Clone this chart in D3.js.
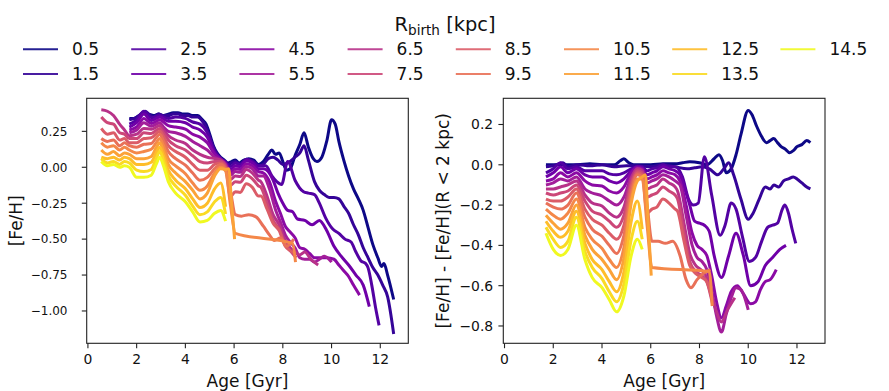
<!DOCTYPE html>
<html>
<head>
<meta charset="utf-8">
<script src="https://cdn.jsdelivr.net/npm/d3@7"></script>
<style>
  body { margin: 0; background: #fff; }
  text { font-family: "DejaVu Sans", sans-serif; fill: #111; }
</style>
</head>
<body>
<svg id="fig" width="889" height="391"></svg>
<script>
// birth radii, one line per radius
var rbirth = [0.5, 1.5, 2.5, 3.5, 4.5, 5.5, 6.5, 7.5, 8.5, 9.5, 10.5, 11.5, 12.5, 13.5, 14.5];

var ageTicks = [0, 2, 4, 6, 8, 10, 12];
var fehTicks = [0.25, 0, -0.25, -0.5, -0.75, -1.0];
var diffTicks = [0.2, 0, -0.2, -0.4, -0.6, -0.8];

// left panel: [age, [Fe/H]] for each birth radius
var fehSeries = [
  [[1.7,0.34],[1.9,0.34],[2.1,0.36],[2.3,0.38],[2.5,0.37],[2.7,0.36],[2.9,0.37],[3.1,0.36],[3.3,0.37],[3.5,0.38],[3.7,0.38],[3.9,0.37],[4.1,0.37],[4.3,0.36],[4.5,0.36],[4.7,0.33],[4.85,0.30],[5.0,0.23],[5.15,0.15],[5.3,0.10],[5.45,0.07],[5.6,0.05],[5.75,0.03],[5.9,0.04],[6.05,0.05],[6.2,0.03],[6.4,0.05],[6.6,0.06],[6.8,0.05],[7.0,0.02],[7.2,0.04],[7.4,0.09],[7.55,0.12],[7.7,0.09],[7.85,0.10],[8.0,0.04],[8.15,-0.02],[8.3,-0.01],[8.5,0.08],[8.7,0.16],[8.87,0.24],[9.05,0.14],[9.25,0.06],[9.4,0.04],[9.6,0.07],[9.8,0.18],[10.0,0.33],[10.15,0.30],[10.3,0.18],[10.5,0.05],[10.7,-0.06],[10.9,-0.15],[11.1,-0.22],[11.3,-0.30],[11.5,-0.42],[11.7,-0.54],[11.9,-0.63],[12.05,-0.69],[12.15,-0.67],[12.3,-0.75],[12.55,-0.92]],
  [[1.7,0.33],[1.9,0.34],[2.1,0.36],[2.35,0.39],[2.5,0.37],[2.7,0.35],[2.9,0.37],[3.1,0.36],[3.3,0.36],[3.5,0.37],[3.7,0.37],[3.9,0.36],[4.1,0.36],[4.3,0.35],[4.5,0.35],[4.7,0.32],[4.85,0.28],[5.0,0.21],[5.15,0.14],[5.3,0.09],[5.45,0.06],[5.6,0.04],[5.75,0.02],[5.9,0.03],[6.05,0.04],[6.2,0.02],[6.4,0.04],[6.6,0.05],[6.8,0.04],[7.0,0.01],[7.2,0.02],[7.4,0.06],[7.6,0.07],[7.8,0.05],[8.0,0.02],[8.2,0.03],[8.5,0.07],[8.7,0.10],[8.87,0.15],[9.05,0.05],[9.3,-0.10],[9.5,-0.16],[9.7,-0.19],[9.9,-0.21],[10.1,-0.21],[10.3,-0.22],[10.5,-0.27],[10.7,-0.32],[10.9,-0.40],[11.1,-0.47],[11.3,-0.56],[11.5,-0.63],[11.7,-0.70],[11.9,-0.75],[12.1,-0.82],[12.3,-0.90],[12.55,-1.16]],
  [[1.7,0.30],[2.0,0.33],[2.3,0.39],[2.6,0.345],[2.95,0.36],[3.3,0.34],[3.6,0.35],[4.0,0.34],[4.3,0.315],[4.6,0.30],[4.9,0.24],[5.2,0.11],[5.45,0.06],[5.65,0.035],[5.85,0.005],[6.05,0.03],[6.25,0.02],[6.5,0.055],[6.75,0.04],[7.0,0.01],[7.3,0.01],[7.55,-0.06],[7.75,-0.10],[7.95,-0.12],[8.2,0.04],[8.5,-0.09],[8.85,-0.17],[9.05,-0.18],[9.3,-0.19],[9.5,-0.25],[9.75,-0.35],[10.05,-0.43],[10.3,-0.46],[10.55,-0.50],[10.8,-0.52],[11.0,-0.59],[11.2,-0.65],[11.4,-0.67],[11.5,-0.70],[11.65,-0.82],[11.8,-0.97],[11.95,-1.10]],
  [[1.7,0.28],[2.0,0.31],[2.3,0.37],[2.6,0.325],[2.95,0.35],[3.3,0.32],[3.6,0.32],[4.0,0.31],[4.3,0.28],[4.6,0.26],[4.9,0.21],[5.2,0.10],[5.45,0.06],[5.65,0.03],[5.85,-0.015],[6.05,0.01],[6.25,0.005],[6.5,0.045],[6.75,0.03],[7.0,-0.01],[7.2,-0.01],[7.4,-0.03],[7.6,-0.09],[7.8,-0.18],[8.0,-0.25],[8.2,-0.30],[8.4,-0.31],[8.6,-0.36],[8.9,-0.37],[9.2,-0.40],[9.5,-0.37],[9.8,-0.44],[10.1,-0.55],[10.4,-0.62],[10.7,-0.68],[11.0,-0.75],[11.3,-0.82],[11.55,-0.97]],
  [[1.7,0.26],[2.0,0.28],[2.3,0.34],[2.6,0.305],[2.95,0.33],[3.3,0.29],[3.6,0.28],[4.0,0.265],[4.3,0.23],[4.6,0.21],[4.9,0.17],[5.2,0.09],[5.45,0.055],[5.65,0.025],[5.85,-0.035],[6.05,-0.01],[6.25,-0.015],[6.5,0.025],[6.75,0.01],[7.0,-0.03],[7.2,-0.04],[7.45,-0.10],[7.7,-0.235],[7.9,-0.32],[8.1,-0.41],[8.3,-0.45],[8.5,-0.49],[8.7,-0.56],[8.9,-0.57],[9.1,-0.60],[9.3,-0.63],[9.55,-0.63],[9.8,-0.63],[10.1,-0.64],[10.3,-0.68],[10.5,-0.72],[10.7,-0.76],[10.9,-0.82],[11.15,-0.89]],
  [[1.7,0.24],[2.0,0.26],[2.3,0.31],[2.6,0.285],[2.95,0.31],[3.1,0.28],[3.3,0.25],[3.6,0.24],[4.0,0.215],[4.3,0.18],[4.6,0.15],[4.9,0.12],[5.2,0.07],[5.45,0.05],[5.65,0.02],[5.85,-0.055],[6.05,-0.03],[6.25,-0.035],[6.5,0.005],[6.75,-0.01],[7.0,-0.06],[7.2,-0.06],[7.45,-0.15],[7.7,-0.295],[7.9,-0.38],[8.1,-0.47],[8.3,-0.52],[8.5,-0.56],[8.7,-0.63],[8.9,-0.64],[9.1,-0.64],[9.3,-0.66],[9.5,-0.64],[9.7,-0.62],[10.0,-0.66]],
  [[0.55,0.40],[0.8,0.39],[1.05,0.36],[1.3,0.30],[1.5,0.26],[1.7,0.22],[2.0,0.23],[2.3,0.27],[2.6,0.265],[2.95,0.29],[3.1,0.26],[3.3,0.22],[3.6,0.19],[4.0,0.165],[4.3,0.12],[4.6,0.09],[4.9,0.07],[5.2,0.06],[5.45,0.05],[5.65,0.015],[5.85,-0.085],[6.05,-0.06],[6.25,-0.065],[6.5,-0.015],[6.75,-0.04],[7.0,-0.09],[7.1,-0.10],[7.35,-0.20],[7.6,-0.33],[7.85,-0.40],[8.05,-0.49],[8.3,-0.56],[8.5,-0.59],[8.7,-0.61],[8.9,-0.59],[9.15,-0.64],[9.45,-0.68]],
  [[0.55,0.35],[0.8,0.31],[1.05,0.30],[1.3,0.24],[1.5,0.23],[1.7,0.20],[2.0,0.20],[2.3,0.24],[2.6,0.235],[2.95,0.27],[3.1,0.24],[3.3,0.19],[3.6,0.15],[4.0,0.12],[4.3,0.08],[4.6,0.04],[4.9,0.03],[5.2,0.04],[5.45,0.04],[5.65,0.005],[5.85,-0.125],[6.05,-0.10],[6.25,-0.105],[6.5,-0.055],[6.75,-0.08],[7.0,-0.13],[7.1,-0.14],[7.35,-0.25],[7.6,-0.37],[7.85,-0.43],[8.1,-0.54],[8.3,-0.58],[8.55,-0.63]],
  [[0.55,0.27],[0.8,0.23],[1.05,0.24],[1.3,0.19],[1.5,0.20],[1.7,0.17],[2.0,0.17],[2.3,0.20],[2.6,0.205],[2.95,0.25],[3.1,0.215],[3.3,0.15],[3.6,0.11],[4.0,0.07],[4.3,0.02],[4.6,-0.02],[4.9,-0.02],[5.2,0.02],[5.45,0.03],[5.65,-0.005],[5.85,-0.205],[6.05,-0.17],[6.25,-0.175],[6.5,-0.115],[6.75,-0.14],[7.0,-0.20],[7.1,-0.20],[7.35,-0.29],[7.6,-0.39],[7.85,-0.44],[8.1,-0.55],[8.3,-0.58],[8.5,-0.60]],
  [[0.55,0.20],[0.8,0.18],[1.05,0.19],[1.3,0.15],[1.5,0.17],[1.7,0.15],[2.0,0.14],[2.3,0.16],[2.6,0.165],[2.8,0.205],[2.95,0.23],[3.1,0.185],[3.3,0.11],[3.6,0.06],[4.0,0.015],[4.3,-0.04],[4.6,-0.09],[4.9,-0.07],[5.2,-0.01],[5.45,0.02],[5.65,-0.015],[5.85,-0.165],[6.05,-0.33],[6.3,-0.34],[6.6,-0.33],[6.9,-0.345],[7.2,-0.41],[7.45,-0.47],[7.65,-0.51],[7.9,-0.49],[8.15,-0.55],[8.45,-0.50]],
  [[0.55,0.17],[0.8,0.14],[1.05,0.15],[1.3,0.12],[1.5,0.14],[1.7,0.12],[2.0,0.10],[2.3,0.11],[2.6,0.125],[2.8,0.17],[2.95,0.20],[3.1,0.15],[3.3,0.06],[3.6,0.01],[4.0,-0.045],[4.3,-0.11],[4.6,-0.16],[4.9,-0.13],[5.2,-0.04],[5.45,0.0],[5.65,-0.025],[5.85,-0.265],[6.05,-0.46],[8.4,-0.53],[8.52,-0.66]],
  [[0.55,0.12],[0.8,0.09],[1.05,0.11],[1.3,0.08],[1.5,0.10],[1.7,0.09],[2.0,0.06],[2.3,0.06],[2.6,0.075],[2.8,0.135],[2.95,0.17],[3.1,0.115],[3.3,0.02],[3.6,-0.04],[4.0,-0.10],[4.3,-0.16],[4.6,-0.22],[4.9,-0.18],[5.2,-0.06],[5.45,-0.01],[5.65,-0.015],[5.78,-0.01],[5.9,-0.26],[6.02,-0.50]],
  [[0.55,0.07],[0.8,0.06],[1.05,0.07],[1.3,0.05],[1.5,0.07],[1.7,0.06],[2.0,0.02],[2.3,0.02],[2.6,0.035],[2.8,0.10],[2.95,0.14],[3.1,0.08],[3.3,-0.02],[3.6,-0.09],[4.0,-0.15],[4.3,-0.22],[4.6,-0.28],[4.9,-0.25],[5.2,-0.15],[5.45,-0.11],[5.65,-0.275]],
  [[0.55,0.06],[0.8,0.03],[1.05,0.04],[1.3,0.02],[1.5,0.04],[1.7,0.03],[2.0,-0.02],[2.3,-0.03],[2.6,-0.015],[2.8,0.06],[2.95,0.11],[3.1,0.045],[3.3,-0.06],[3.6,-0.13],[4.0,-0.195],[4.3,-0.27],[4.6,-0.33],[4.9,-0.31],[5.2,-0.24],[5.45,-0.21],[5.65,-0.325]],
  [[0.55,0.04],[0.8,0.01],[1.05,0.02],[1.3,0.0],[1.5,0.01],[1.7,0.0],[2.0,-0.07],[2.3,-0.07],[2.6,-0.055],[2.8,0.02],[2.95,0.07],[3.1,0.01],[3.3,-0.10],[3.6,-0.18],[4.0,-0.24],[4.3,-0.31],[4.6,-0.38],[4.9,-0.37],[5.2,-0.32],[5.45,-0.30],[5.65,-0.375]]
];

// right panel: [age, [Fe/H] - [Fe/H](R < 2 kpc)]
var diffSeries = [
  [[1.7,0],[2.0,0],[2.5,0.0],[3.0,0.0],[3.5,0.005],[4.0,0.0],[4.5,0.0],[4.75,0.02],[4.9,0.03],[5.1,0.01],[5.3,0],[6.0,0.0],[6.5,0.005],[7.0,0.005],[7.3,0.01],[7.6,0.015],[8.0,0.01],[8.3,0.0],[8.6,0.03],[8.8,0.05],[8.95,0.02],[9.1,-0.04],[9.3,-0.02],[9.5,0.05],[9.7,0.15],[10.0,0.27],[10.15,0.25],[10.35,0.19],[10.55,0.14],[10.75,0.11],[10.9,0.12],[11.05,0.13],[11.2,0.11],[11.35,0.09],[11.5,0.08],[11.7,0.06],[11.85,0.07],[12.0,0.09],[12.2,0.10],[12.4,0.12],[12.55,0.11]],
  [[1.7,-0.01],[2.0,-0.005],[2.4,0.01],[2.6,-0.01],[3.0,0.0],[3.5,-0.005],[4.0,0.0],[4.5,-0.01],[5.0,-0.005],[5.5,-0.005],[6.0,-0.01],[6.5,0.0],[7.0,-0.01],[7.5,-0.02],[7.8,-0.015],[8.1,-0.01],[8.4,-0.02],[8.75,-0.05],[9.0,-0.02],[9.2,0.01],[9.4,-0.05],[9.7,-0.17],[10.0,-0.27],[10.2,-0.24],[10.45,-0.17],[10.7,-0.11],[10.9,-0.12],[11.05,-0.10],[11.25,-0.11],[11.45,-0.08],[11.65,-0.07],[11.85,-0.06],[12.0,-0.07],[12.2,-0.09],[12.4,-0.11],[12.55,-0.12]],
  [[1.7,-0.04],[2.0,-0.02],[2.3,0.01],[2.6,-0.02],[2.95,-0.01],[3.3,-0.03],[3.6,-0.03],[4.0,-0.03],[4.3,-0.045],[4.6,-0.05],[4.9,-0.04],[5.2,-0.02],[5.45,-0.01],[5.65,-0.01],[5.85,-0.03],[6.05,-0.02],[6.25,-0.015],[6.5,0.0],[6.75,-0.01],[7.0,-0.01],[7.3,-0.06],[7.55,-0.17],[7.75,-0.20],[7.95,-0.19],[8.2,0.04],[8.5,-0.15],[8.85,-0.35],[9.05,-0.30],[9.3,-0.19],[9.5,-0.22],[9.75,-0.35],[10.05,-0.48],[10.3,-0.46],[10.55,-0.38],[10.8,-0.31],[11.0,-0.30],[11.2,-0.29],[11.4,-0.22],[11.5,-0.20],[11.65,-0.24],[11.8,-0.32],[11.95,-0.39]],
  [[1.7,-0.06],[2.0,-0.04],[2.3,-0.01],[2.6,-0.04],[2.95,-0.02],[3.3,-0.05],[3.6,-0.06],[4.0,-0.06],[4.3,-0.08],[4.6,-0.09],[4.9,-0.07],[5.2,-0.03],[5.45,-0.01],[5.65,-0.015],[5.85,-0.05],[6.05,-0.04],[6.25,-0.03],[6.5,-0.01],[6.75,-0.02],[7.0,-0.03],[7.2,-0.05],[7.4,-0.12],[7.6,-0.20],[7.8,-0.28],[8.0,-0.29],[8.2,-0.30],[8.4,-0.33],[8.6,-0.45],[8.9,-0.56],[9.2,-0.45],[9.5,-0.34],[9.8,-0.45],[10.1,-0.60],[10.4,-0.58],[10.7,-0.50],[11.0,-0.46],[11.3,-0.42],[11.55,-0.40]],
  [[1.7,-0.08],[2.0,-0.07],[2.3,-0.04],[2.6,-0.06],[2.95,-0.04],[3.3,-0.08],[3.6,-0.10],[4.0,-0.105],[4.3,-0.13],[4.6,-0.14],[4.9,-0.11],[5.2,-0.04],[5.45,-0.015],[5.65,-0.02],[5.85,-0.07],[6.05,-0.06],[6.25,-0.05],[6.5,-0.03],[6.75,-0.04],[7.0,-0.05],[7.2,-0.08],[7.45,-0.20],[7.7,-0.34],[7.9,-0.40],[8.1,-0.42],[8.3,-0.45],[8.5,-0.55],[8.7,-0.68],[8.9,-0.76],[9.1,-0.70],[9.3,-0.63],[9.55,-0.60],[9.8,-0.64],[10.1,-0.69],[10.3,-0.68],[10.5,-0.62],[10.7,-0.58],[10.9,-0.57],[11.15,-0.52]],
  [[1.7,-0.10],[2.0,-0.09],[2.3,-0.07],[2.6,-0.08],[2.95,-0.06],[3.3,-0.12],[3.6,-0.14],[4.0,-0.155],[4.3,-0.18],[4.6,-0.20],[4.9,-0.16],[5.2,-0.06],[5.45,-0.02],[5.65,-0.025],[5.85,-0.09],[6.05,-0.08],[6.25,-0.07],[6.5,-0.05],[6.75,-0.06],[7.0,-0.08],[7.2,-0.10],[7.45,-0.25],[7.7,-0.40],[7.9,-0.46],[8.1,-0.48],[8.3,-0.52],[8.5,-0.62],[8.7,-0.75],[8.9,-0.83],[9.1,-0.74],[9.3,-0.66],[9.5,-0.61],[9.7,-0.62],[10.0,-0.72]],
  [[1.7,-0.12],[2.0,-0.12],[2.3,-0.11],[2.6,-0.10],[2.95,-0.08],[3.3,-0.15],[3.6,-0.19],[4.0,-0.205],[4.3,-0.24],[4.6,-0.26],[4.9,-0.21],[5.2,-0.07],[5.45,-0.02],[5.65,-0.03],[5.85,-0.12],[6.05,-0.11],[6.25,-0.10],[6.5,-0.07],[6.75,-0.09],[7.0,-0.11],[7.1,-0.13],[7.35,-0.28],[7.6,-0.44],[7.85,-0.50],[8.05,-0.52],[8.3,-0.56],[8.5,-0.65],[8.7,-0.73],[8.9,-0.78],[9.15,-0.72],[9.45,-0.66]],
  [[1.7,-0.14],[2.0,-0.15],[2.3,-0.14],[2.6,-0.13],[2.95,-0.10],[3.3,-0.18],[3.6,-0.23],[4.0,-0.25],[4.3,-0.28],[4.6,-0.31],[4.9,-0.25],[5.2,-0.09],[5.45,-0.03],[5.65,-0.04],[5.85,-0.16],[6.05,-0.15],[6.25,-0.14],[6.5,-0.11],[6.75,-0.13],[7.0,-0.15],[7.1,-0.17],[7.35,-0.33],[7.6,-0.48],[7.85,-0.53],[8.1,-0.55],[8.3,-0.58],[8.55,-0.70]],
  [[1.7,-0.17],[2.0,-0.18],[2.3,-0.18],[2.6,-0.16],[2.95,-0.12],[3.3,-0.22],[3.6,-0.27],[4.0,-0.30],[4.3,-0.34],[4.6,-0.37],[4.9,-0.30],[5.2,-0.11],[5.45,-0.04],[5.65,-0.05],[5.85,-0.24],[6.05,-0.22],[6.25,-0.21],[6.5,-0.17],[6.75,-0.19],[7.0,-0.22],[7.1,-0.23],[7.35,-0.37],[7.6,-0.50],[7.85,-0.54],[8.1,-0.56],[8.3,-0.58],[8.5,-0.66]],
  [[1.7,-0.19],[2.0,-0.21],[2.3,-0.22],[2.6,-0.20],[2.95,-0.14],[3.3,-0.26],[3.6,-0.32],[4.0,-0.355],[4.3,-0.40],[4.6,-0.44],[4.9,-0.35],[5.2,-0.14],[5.45,-0.05],[5.65,-0.06],[5.85,-0.20],[6.05,-0.38],[6.3,-0.38],[6.6,-0.39],[6.9,-0.38],[7.2,-0.45],[7.45,-0.57],[7.65,-0.61],[7.9,-0.57],[8.15,-0.54],[8.45,-0.52]],
  [[1.7,-0.22],[2.0,-0.25],[2.3,-0.27],[2.6,-0.24],[2.95,-0.17],[3.3,-0.31],[3.6,-0.37],[4.0,-0.415],[4.3,-0.47],[4.6,-0.51],[4.9,-0.41],[5.2,-0.17],[5.45,-0.07],[5.65,-0.07],[5.85,-0.30],[6.05,-0.51],[8.4,-0.53],[8.52,-0.70]],
  [[1.7,-0.25],[2.0,-0.29],[2.3,-0.32],[2.6,-0.29],[2.95,-0.20],[3.3,-0.35],[3.6,-0.42],[4.0,-0.47],[4.3,-0.52],[4.6,-0.57],[4.9,-0.46],[5.2,-0.19],[5.45,-0.08],[5.65,-0.06],[5.78,-0.05],[5.9,-0.30],[6.02,-0.55]],
  [[1.7,-0.28],[2.0,-0.33],[2.3,-0.36],[2.6,-0.33],[2.95,-0.23],[3.3,-0.39],[3.6,-0.47],[4.0,-0.52],[4.3,-0.58],[4.6,-0.63],[4.9,-0.53],[5.2,-0.28],[5.45,-0.18],[5.65,-0.32]],
  [[1.7,-0.31],[2.0,-0.37],[2.3,-0.41],[2.6,-0.38],[2.95,-0.26],[3.3,-0.43],[3.6,-0.51],[4.0,-0.565],[4.3,-0.63],[4.6,-0.68],[4.9,-0.59],[5.2,-0.37],[5.45,-0.28],[5.65,-0.37]],
  [[1.7,-0.34],[2.0,-0.42],[2.3,-0.45],[2.6,-0.42],[2.95,-0.30],[3.3,-0.47],[3.6,-0.56],[4.0,-0.61],[4.3,-0.67],[4.6,-0.73],[4.9,-0.65],[5.2,-0.45],[5.45,-0.37],[5.65,-0.42]]
];

var svg = d3.select("#fig");
var color = function(i) { return d3.interpolatePlasma(i / (rbirth.length - 1)); };

var plotTop = 98.3, plotBottom = 343.3;
var tickLen = 4.9, tickFont = 13.9, labelFont = 17;

// the left panel's y labels sit further from the frame and are a little smaller
var panels = [
  { x0: 86.7, x1: 408.3, series: fehSeries, yDomain: [-1.225, 0.48], yTicks: fehTicks,
    fmt: d3.format(".2f"), yTickFont: 12, yTickX: 67.5, label: "[Fe/H]", labelX: 22 },
  { x0: 503.3, x1: 825, series: diffSeries, yDomain: [-0.886, 0.33], yTicks: diffTicks,
    fmt: d3.format(".1f"), yTickFont: 13.9, yTickX: 493.2, label: "[Fe/H] - [Fe/H](R < 2 kpc)", labelX: 449 }
];

panels.forEach(function(p) {
  var x = d3.scaleLinear().domain([-0.05, 13.15]).range([p.x0, p.x1]);
  var y = d3.scaleLinear().domain(p.yDomain).range([plotBottom, plotTop]);
  var g = svg.append("g");

  var line = d3.line()
    .x(function(d) { return x(d[0]); })
    .y(function(d) { return y(d[1]); })
    .curve(d3.curveMonotoneX);

  // one line per birth radius, inner radii first so the outer ones sit on top
  g.selectAll("path.series")
    .data(p.series)
    .enter()
    .append("path")
      .attr("class", "series")
      .attr("d", line)
      .attr("fill", "none")
      .attr("stroke", function(d, i) { return color(i); })
      .attr("stroke-width", 3.0)
      .attr("stroke-linejoin", "round");

  // frame
  g.append("rect")
    .attr("x", p.x0).attr("y", plotTop)
    .attr("width", p.x1 - p.x0).attr("height", plotBottom - plotTop)
    .attr("fill", "none").attr("stroke", "#222").attr("stroke-width", 1.1);

  // x axis ticks and labels
  var xt = g.selectAll("g.xt").data(ageTicks).enter().append("g").attr("class", "xt");
  xt.append("line")
    .attr("x1", function(d) { return x(d); }).attr("x2", function(d) { return x(d); })
    .attr("y1", plotBottom).attr("y2", plotBottom + tickLen)
    .attr("stroke", "#222").attr("stroke-width", 1.1);
  xt.append("text")
    .attr("x", function(d) { return x(d); })
    .attr("y", plotBottom + tickLen + 4.9 + 0.76 * tickFont)
    .attr("text-anchor", "middle")
    .style("font-size", tickFont + "px")
    .text(function(d) { return d; });

  // y axis ticks and labels
  var yt = g.selectAll("g.yt").data(p.yTicks).enter().append("g").attr("class", "yt");
  yt.append("line")
    .attr("x1", p.x0 - tickLen).attr("x2", p.x0)
    .attr("y1", function(d) { return y(d); }).attr("y2", function(d) { return y(d); })
    .attr("stroke", "#222").attr("stroke-width", 1.1);
  yt.append("text")
    .attr("x", p.yTickX)
    .attr("y", function(d) { return y(d) + 0.36 * p.yTickFont; })
    .attr("text-anchor", "end")
    .style("font-size", p.yTickFont + "px")
    .text(function(d) { return p.fmt(d); });

  // axis titles
  g.append("text")
    .attr("x", (p.x0 + p.x1) / 2).attr("y", 386.5)
    .attr("text-anchor", "middle")
    .style("font-size", labelFont + "px")
    .text("Age [Gyr]");
  g.append("text")
    .attr("transform", "translate(" + p.labelX + "," + ((plotTop + plotBottom) / 2) + ") rotate(-90)")
    .attr("text-anchor", "middle")
    .style("font-size", labelFont + "px")
    .text(p.label);
});

// legend: 8 columns, filled column by column
var legendFont = 17;
var legend = svg.append("g");
var rowY = [49.3, 74];
var colStep = 108.2, colStart = 23, handleLen = 35, textOffset = 49;
rbirth.forEach(function(r, i) {
  var c = Math.floor(i / 2), row = i % 2;
  var lx = colStart + c * colStep;
  legend.append("line")
    .attr("x1", lx).attr("x2", lx + handleLen)
    .attr("y1", rowY[row]).attr("y2", rowY[row])
    .attr("stroke", color(i)).attr("stroke-width", 2.1).attr("stroke-opacity", 0.9);
  legend.append("text")
    .attr("x", lx + textOffset)
    .attr("y", rowY[row] + 0.36 * legendFont)
    .style("font-size", legendFont + "px")
    .text(r);
});

// legend title
var title = legend.append("text")
  .attr("x", 445)
  .attr("y", 30.5)
  .attr("text-anchor", "middle")
  .style("font-size", "19.4px");
title.append("tspan").text("R");
title.append("tspan").attr("dy", 4).style("font-size", "13.6px").text("birth");
title.append("tspan").attr("dy", -4).text(" [kpc]");
</script>
</body>
</html>
